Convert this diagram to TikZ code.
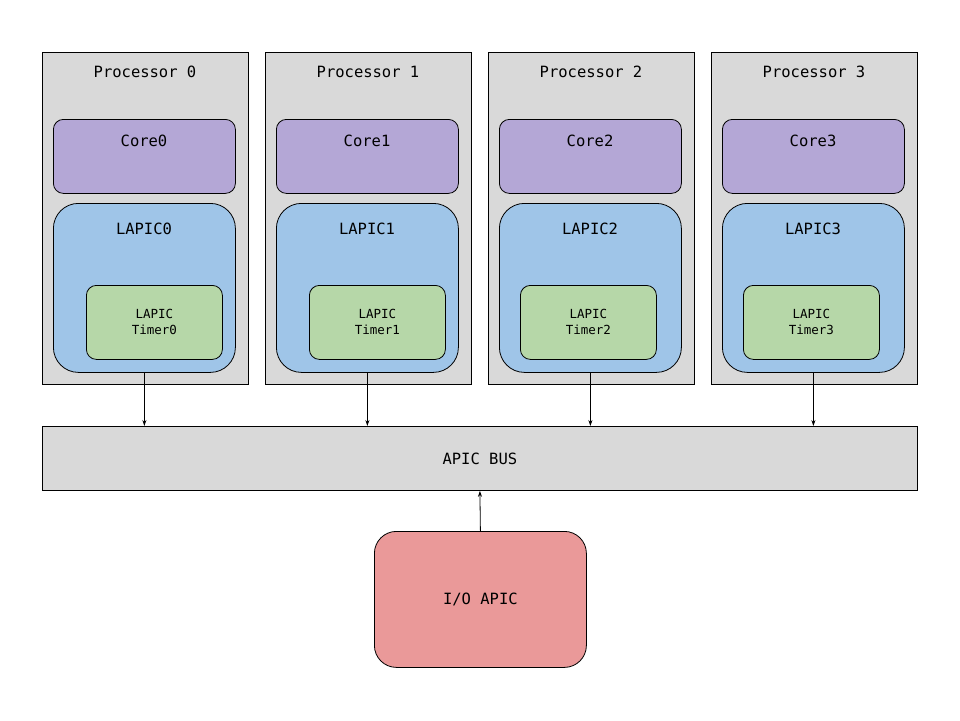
\documentclass[tikz,border=0pt]{standalone}
\usepackage{fontspec}
\setmonofont{DejaVu Sans Mono}
\usetikzlibrary{arrows.meta}
\definecolor{procgray}{HTML}{D9D9D9}
\definecolor{corepurple}{HTML}{B4A7D6}
\definecolor{lapicblue}{HTML}{9FC5E8}
\definecolor{timergreen}{HTML}{B6D7A8}
\definecolor{ioapicred}{HTML}{EA9999}
\tikzset{
  box/.style={draw=black, line width=0.8pt, anchor=north west, inner sep=0pt},
  procbox/.style={box, fill=procgray, minimum width=206pt, minimum height=332pt},
  corebox/.style={box, fill=corepurple, rounded corners=10pt, minimum width=182pt, minimum height=74pt},
  lapicbox/.style={box, fill=lapicblue, rounded corners=25pt, minimum width=182pt, minimum height=169pt},
  timerbox/.style={box, fill=timergreen, rounded corners=10pt, minimum width=136pt, minimum height=74pt},
  bigtext/.style={font=\ttfamily\fontsize{15.5}{18}\selectfont},
  smalltext/.style={font=\ttfamily\fontsize{12.5}{16}\selectfont, align=center}
}
\begin{document}
\begin{tikzpicture}[x=1pt, y=-1pt, >={Stealth[length=6pt, width=4pt]}]
\useasboundingbox (0,0) rectangle (960,720);
\foreach \i/\xo/\to in {0/42/33, 1/265/33, 2/488/21, 3/711/21} {
  \node[procbox] (p\i) at (\xo,52) {};
  \node[bigtext] (pl\i) at (\xo+103,72) {Processor \i};
  \node[corebox] (c\i) at (\xo+11,119) {};
  \node[bigtext] (cl\i) at (\xo+102,141) {Core\i};
  \node[lapicbox] (l\i) at (\xo+11,203) {};
  \node[bigtext] (ll\i) at (\xo+102,229) {LAPIC\i};
  \node[timerbox] (t\i) at (\xo+11+\to,285) {};
  \node[smalltext] (tl\i) at (t\i.center) {LAPIC\\Timer\i};
}
\node[box, fill=procgray, minimum width=875pt, minimum height=64pt] (bus) at (42,426) {};
\node[bigtext] (busl) at (bus.center) {APIC BUS};
\node[box, fill=ioapicred, rounded corners=22pt, minimum width=212pt, minimum height=136pt] (io) at (374,531) {};
\node[bigtext] (iol) at (io.center) {I/O APIC};
\foreach \i in {0,...,3}
  \draw[->, line width=0.8pt] (l\i.south) -- (l\i.south |- bus.north);
\draw[->, line width=0.8pt] (io.north) -- (bus.south);
\end{tikzpicture}
\end{document}
